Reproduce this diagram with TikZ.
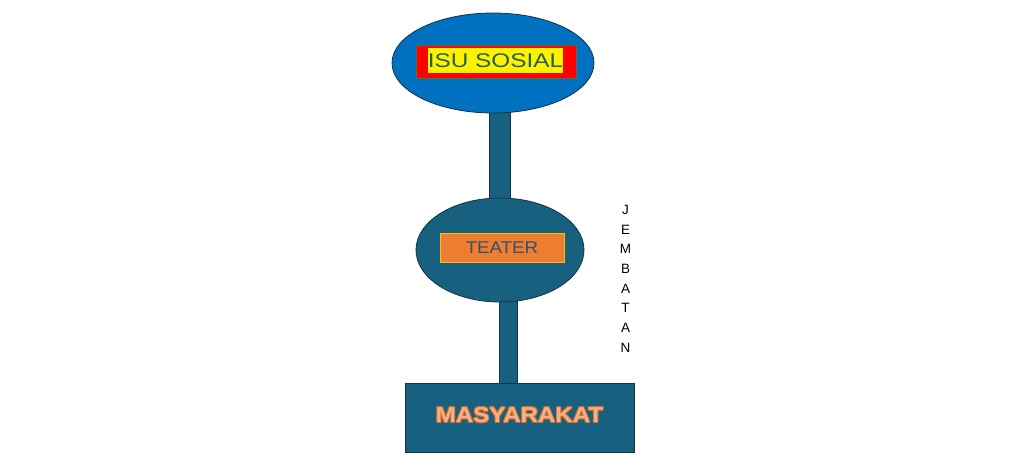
\documentclass[tikz,border=0pt]{standalone}
\usepackage{fontspec}
\setmainfont{Liberation Sans}
\usetikzlibrary{shapes.geometric,calc}
\definecolor{topblue}{RGB}{0,112,192}
\definecolor{teal}{RGB}{24,96,128}
\definecolor{edge}{RGB}{16,50,75}
\definecolor{isutext}{RGB}{36,96,82}
\definecolor{teatertext}{RGB}{50,82,108}
\definecolor{orangebox}{RGB}{237,125,49}
\definecolor{masyfill}{RGB}{246,176,130}
\definecolor{masyedge}{RGB}{214,110,50}
\pgfdeclarelayer{bg}
\pgfsetlayers{bg,main}
\tikzset{
  blob/.style={ellipse, draw=edge, line width=0.8pt, inner sep=0pt},
  bar/.style={draw=edge, line width=0.8pt, fill=teal},
  masytxt/.style={font=\bfseries\fontsize{21.5}{21.5}\selectfont, xscale=1.12, inner sep=0pt}
}
\begin{document}
\begin{tikzpicture}[x=1pt,y=-1pt]
\useasboundingbox (0,0) rectangle (1027,475);
% nodes
\node[blob, fill=topblue, minimum width=202pt, minimum height=100pt] (isu) at (493,63) {};
\node[draw=edge!70!yellow, line width=0.4pt, fill=red, minimum width=160pt, minimum height=33pt, inner sep=0pt] (isured) at (496,61.5) {};
\node[fill=yellow, minimum width=135pt, minimum height=25pt, inner sep=0pt, text=isutext,
      font=\fontsize{19.8}{19.8}\selectfont] (isutxt) at (495.5,60.5) {\scalebox{1.23}[1]{ISU SOSIAL}};
\node[blob, fill=teal, minimum width=168pt, minimum height=104pt] (teater) at (500,250) {};
\node[draw={rgb,255:red,255;green,192;blue,0}, line width=0.6pt, fill=orangebox, minimum width=124pt, minimum height=29pt, inner sep=0pt,
      text=teatertext, font=\fontsize{17}{17}\selectfont] (teatertxt) at (502,247.5) {\scalebox{1.1}[1]{TEATER}};
\node[draw=edge, line width=0.8pt, fill=teal, minimum width=229pt, minimum height=69pt, inner sep=0pt] (masy) at (519.5,417.5) {};
% outlined text
\foreach \dx/\dy in {-0.9/0,0.9/0,0/-0.9,0/0.9,-0.65/-0.65,0.65/0.65,-0.65/0.65,0.65/-0.65}
  \node[masytxt, text=masyedge] at ($(519.5,415)+(\dx,\dy)$) {MASYARAKAT};
\node[masytxt, text=masyfill] (masytxt) at (519.5,415) {MASYARAKAT};
\node[font=\fontsize{13.5}{19.7}\selectfont, align=center, inner sep=0pt, anchor=north] (jembatan) at (625.5,205)
  {J\\E\\M\\B\\A\\T\\A\\N};
% connectors (bars)
\begin{pgfonlayer}{bg}
\path[bar] ([xshift=-4pt,yshift=12pt]isu.south) rectangle ([xshift=10pt,yshift=-12pt]teater.north);
\path[bar] ([xshift=-1pt,yshift=12pt]teater.south) rectangle ([xshift=-2.5pt,yshift=-8pt]masy.north);
\end{pgfonlayer}
\end{tikzpicture}
\end{document}
